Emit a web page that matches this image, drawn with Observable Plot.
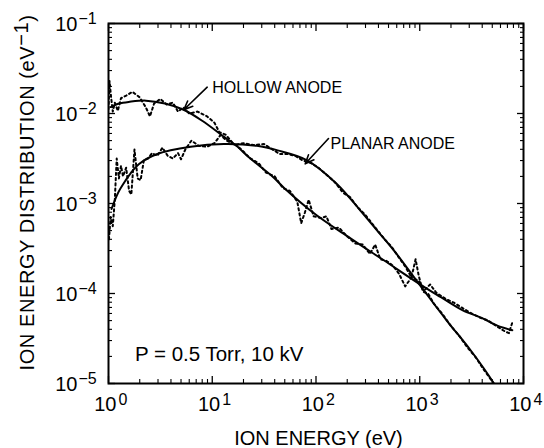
<!DOCTYPE html>
<html>
<head>
<meta charset="utf-8">
<script src="https://cdn.jsdelivr.net/npm/d3@7"></script>
<script src="https://cdn.jsdelivr.net/npm/@observablehq/plot@0.6"></script>
<style>
  html, body { margin: 0; padding: 0; background: white; }
</style>
</head>
<body>
<div id="chart"></div>
<script>
// ---- smooth fitted curves (energy in eV, distribution in eV^-1) ----
const hollowFitE = [1.05, 1.26, 1.6, 2.3, 3.5, 5.3, 8, 13, 17, 23, 39, 49, 100, 215, 450, 980, 1600, 2600, 3900, 5600, 7800];
const hollowFitV = [0.0118, 0.0129, 0.0135, 0.0139, 0.0129, 0.011, 0.0083, 0.0055, 0.0044, 0.0032, 0.00195, 0.0015, 0.00075, 0.00041, 0.000234, 0.000129, 0.000091, 0.000065, 0.000054, 0.000044, 0.000039];

const planarFitE = [1.07, 1.24, 1.45, 1.62, 1.97, 2.95, 6.2, 12.9, 26.9, 42.7, 82, 158, 269, 389, 562, 977, 1820, 3090, 5130, 5600];
const planarFitV = [0.00087, 0.00132, 0.00178, 0.00214, 0.00275, 0.00355, 0.00427, 0.00457, 0.00437, 0.00389, 0.00302, 0.00166, 0.00083, 0.0005, 0.000302, 0.000129, 0.0000501, 0.0000234, 0.0000102, 0.0000085];

// ---- measured (dotted) data ----
const hollowDataE = [1.0, 1.023, 1.06, 1.10, 1.15, 1.23, 1.32, 1.48, 1.70, 2.0, 2.29, 2.51, 2.75, 3.16, 3.63, 4.17, 4.68, 5.25, 6.0, 7.2, 8.9, 10.5, 11.7, 13.5, 15.8, 19, 23, 28, 33, 40, 48, 56, 66, 72, 78, 85, 95, 112, 126, 141, 166, 200, 240, 282, 331, 372, 417, 479, 550, 631, 724, 832, 977, 1122, 1259, 1445, 1778, 2138, 2630, 3162, 3800, 4570, 5620, 6600, 7244, 7760];
const hollowDataV = [0.0112, 0.0229, 0.0151, 0.0105, 0.0132, 0.0107, 0.0148, 0.0158, 0.0174, 0.0151, 0.0117, 0.0093, 0.0129, 0.0145, 0.0126, 0.0132, 0.0105, 0.0117, 0.0100, 0.0105, 0.0093, 0.0079, 0.0062, 0.0058, 0.0047, 0.0040, 0.0032, 0.0028, 0.0022, 0.0020, 0.00148, 0.00138, 0.00105, 0.000603, 0.00079, 0.0011, 0.00072, 0.00069, 0.00072, 0.00052, 0.00054, 0.00043, 0.00036, 0.00035, 0.000275, 0.00035, 0.00024, 0.00023, 0.000204, 0.000166, 0.00012, 0.000151, 0.000138, 0.00011, 0.000126, 0.000102, 0.000087, 0.000079, 0.000068, 0.00006, 0.000054, 0.00005, 0.0000427, 0.000038, 0.0000363, 0.0000468];

const planarDataE = [1.01, 1.05, 1.10, 1.15, 1.20, 1.26, 1.32, 1.38, 1.48, 1.58, 1.66, 1.78, 1.91, 2.04, 2.19, 2.40, 2.63, 2.95, 3.31, 3.72, 4.17, 4.68, 5.0, 5.5, 6.3, 7.4, 8.9, 10.5, 12, 13.8, 16.6, 20, 25, 31.6, 38, 44.7, 52.5, 63, 74, 89, 105, 126, 151, 182, 214, 251, 295, 347, 398, 468, 537, 631, 724, 832, 912, 977, 1072, 1202, 1380, 1660, 1995, 2400, 2884, 3467, 4169, 5012, 5500];
const planarDataV = [0.0004, 0.00071, 0.00056, 0.0011, 0.00316, 0.0019, 0.00263, 0.002, 0.0025, 0.00138, 0.00126, 0.00398, 0.0019, 0.00182, 0.003, 0.00316, 0.00363, 0.00339, 0.00417, 0.00339, 0.00316, 0.00363, 0.0031, 0.00398, 0.005, 0.00437, 0.00427, 0.00468, 0.00575, 0.005, 0.00447, 0.00468, 0.00447, 0.00457, 0.00398, 0.00355, 0.00355, 0.00339, 0.00302, 0.00282, 0.00251, 0.00209, 0.00174, 0.00132, 0.00117, 0.00091, 0.00076, 0.0006, 0.00049, 0.00039, 0.00033, 0.00025, 0.0002, 0.000151, 0.00024, 0.000158, 0.000105, 0.0001, 0.000076, 0.0000589, 0.0000437, 0.0000339, 0.0000251, 0.0000195, 0.0000141, 0.0000105, 0.0000089];

// ---- axes ----
const xMajor = [1, 10, 100, 1000, 10000];
const xExponents = ["0", "1", "2", "3", "4"];
const yMajor = [1e-5, 1e-4, 1e-3, 1e-2, 1e-1];
const yExponents = ["\u22125", "\u22124", "\u22123", "\u22122", "\u22121"];
const minorMultipliers = [2, 3, 4, 5, 6, 7, 8, 9];
const xMinor = [1, 10, 100, 1000].flatMap(d => minorMultipliers.map(m => m * d));
const yMinor = [1e-5, 1e-4, 1e-3, 1e-2].flatMap(d => minorMultipliers.map(m => m * d));

const xLabel = "ION ENERGY (eV)";
const yLabelMain = "ION ENERGY DISTRIBUTION (eV";
const yLabelSup = "\u22121";
const yLabelEnd = ")";

// ---- annotations ----
const labelNames = ["HOLLOW ANODE", "PLANAR ANODE"];
const labelE = [10, 138];
const labelV = [0.0171, 0.00408];
const arrowFromE = [8.94, 132];
const arrowFromV = [0.0196, 0.00527];
const arrowToE = [5.32, 78.7];
const arrowToV = [0.011, 0.00276];
const conditionText = "P = 0.5 Torr, 10 kV";
const conditionE = 1.8;
const conditionV = 1.8e-5;

const zip = (E, V) => E.map((e, i) => ({e, v: V[i]}));
const hollowFit = zip(hollowFitE, hollowFitV);
const planarFit = zip(planarFitE, planarFitV);
const hollowData = zip(hollowDataE, hollowDataV);
const planarData = zip(planarDataE, planarDataV);
const labels = labelNames.map((t, i) => ({t, e: labelE[i], v: labelV[i]}));
const arrows = arrowFromE.map((d, i) => ({x1: d, y1: arrowFromV[i], x2: arrowToE[i], y2: arrowToV[i]}));

const font = "'Liberation Sans', Arial, Helvetica, sans-serif";

const chart = Plot.plot({
  width: 544,
  height: 448,
  marginLeft: 108,
  marginRight: 21,
  marginTop: 23,
  marginBottom: 65,
  x: {type: "log", domain: [1, 1e4]},
  y: {type: "log", domain: [1e-5, 1e-1]},
  style: {fontFamily: font, background: "white", color: "black", overflow: "visible"},
  marks: [
    // inward ticks on all four sides
    Plot.axisX({ticks: xMajor, anchor: "bottom", tickSize: -7, text: null, label: null, strokeWidth: 1.3}),
    Plot.axisX({ticks: xMinor, anchor: "bottom", tickSize: -4, text: null, label: null, strokeWidth: 1.1}),
    Plot.axisX({ticks: xMajor, anchor: "top", tickSize: -7, text: null, label: null, strokeWidth: 1.3}),
    Plot.axisX({ticks: xMinor, anchor: "top", tickSize: -4, text: null, label: null, strokeWidth: 1.1}),
    Plot.axisY({ticks: yMajor, anchor: "left", tickSize: -7, text: null, label: null, strokeWidth: 1.3}),
    Plot.axisY({ticks: yMinor, anchor: "left", tickSize: -4, text: null, label: null, strokeWidth: 1.1}),
    Plot.axisY({ticks: yMajor, anchor: "right", tickSize: -7, text: null, label: null, strokeWidth: 1.3}),
    Plot.axisY({ticks: yMinor, anchor: "right", tickSize: -4, text: null, label: null, strokeWidth: 1.1}),
    Plot.frame({stroke: "black", strokeWidth: 2}),

    // tick labels
    Plot.text(xMajor, {x: d => d, frameAnchor: "bottom", text: () => "10", textAnchor: "end", lineAnchor: "middle", dx: 8, dy: 21.5, fontSize: 20}),
    Plot.text(xMajor, {x: d => d, frameAnchor: "bottom", text: (d, i) => xExponents[i], textAnchor: "start", lineAnchor: "middle", dx: 10, dy: 16, fontSize: 16}),
    Plot.text(yMajor, {y: d => d, frameAnchor: "left", text: () => "10", textAnchor: "end", lineAnchor: "middle", dx: -31, dy: 1.5, fontSize: 20}),
    Plot.text(yMajor, {y: d => d, frameAnchor: "left", text: (d, i) => yExponents[i], textAnchor: "start", lineAnchor: "middle", dx: -30, dy: -5, fontSize: 16}),

    // axis titles
    Plot.text([xLabel], {frameAnchor: "bottom", text: d => d, textAnchor: "middle", lineAnchor: "bottom", dx: 2.5, dy: 61, fontSize: 20}),
    Plot.text([yLabelMain], {frameAnchor: "left", text: d => d, rotate: -90, textAnchor: "middle", lineAnchor: "middle", dx: -80.5, dy: -11, fontSize: 20}),

    // data
    Plot.line(hollowData, {x: "e", y: "v", stroke: "black", strokeWidth: 2, strokeDasharray: "2.2,3", clip: true}),
    Plot.line(planarData, {x: "e", y: "v", stroke: "black", strokeWidth: 2, strokeDasharray: "2.2,3", clip: true}),
    Plot.line(hollowFit, {x: "e", y: "v", stroke: "black", strokeWidth: 2, curve: "catmull-rom", clip: true}),
    Plot.line(planarFit, {x: "e", y: "v", stroke: "black", strokeWidth: 2, curve: "catmull-rom", clip: true}),

    // annotations
    Plot.arrow(arrows, {x1: "x1", y1: "y1", x2: "x2", y2: "y2", stroke: "black", strokeWidth: 1.6, headLength: 9, headAngle: 45}),
    Plot.text(labels, {x: "e", y: "v", text: "t", textAnchor: "start", lineAnchor: "bottom", fontSize: 16}),
    Plot.text([conditionText], {x: () => conditionE, y: () => conditionV, text: d => d, textAnchor: "start", lineAnchor: "bottom", fontSize: 20.5})
  ]
});

document.getElementById("chart").appendChild(chart);

// add the superscript to the y-axis title
chart.querySelectorAll("text").forEach(t => {
  if (t.textContent === yLabelMain) {
    t.style.letterSpacing = "0.6px";
    const ns = "http://www.w3.org/2000/svg";
    const sup = document.createElementNS(ns, "tspan");
    sup.setAttribute("dy", "-0.3em");
    sup.textContent = yLabelSup;
    const end = document.createElementNS(ns, "tspan");
    end.setAttribute("dy", "0.3em");
    end.textContent = yLabelEnd;
    t.appendChild(sup);
    t.appendChild(end);
  }
});
</script>
</body>
</html>
